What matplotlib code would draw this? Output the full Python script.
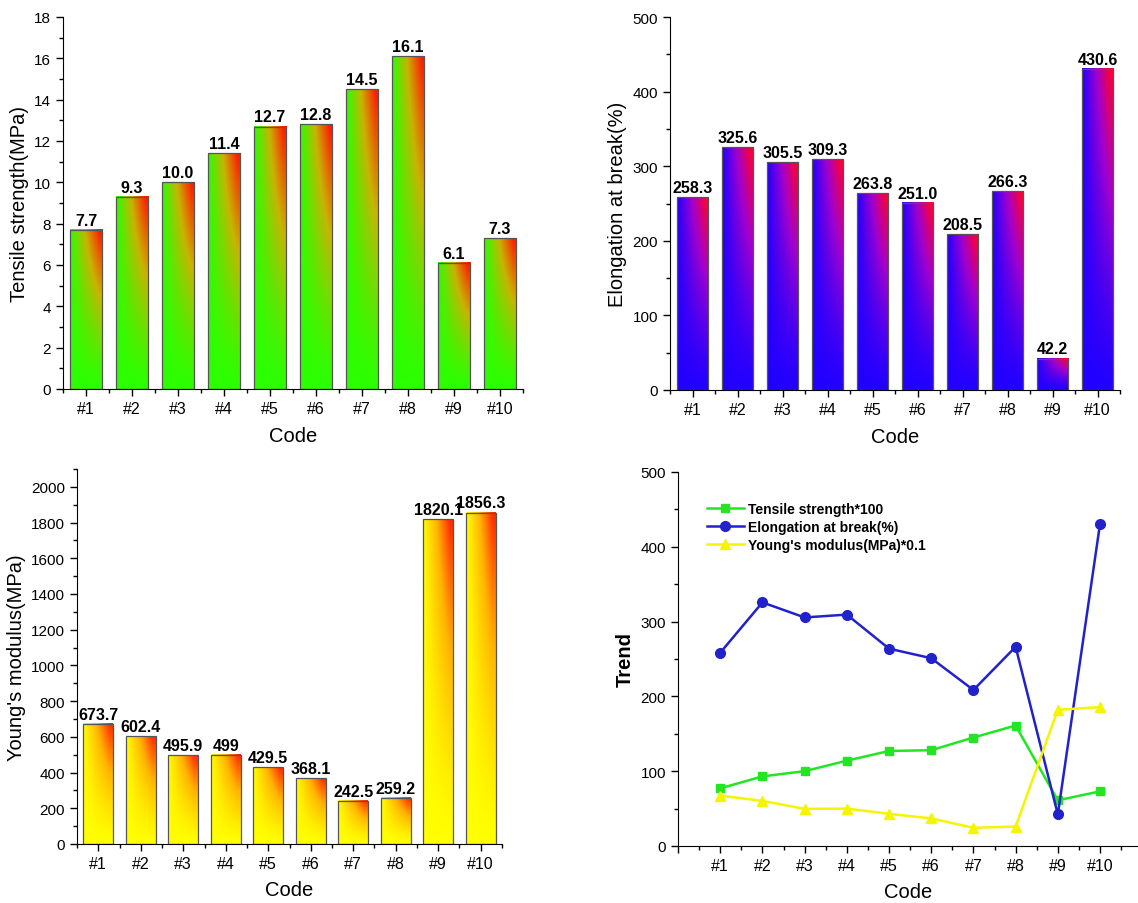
import numpy as np
import matplotlib.pyplot as plt
from matplotlib.colors import LinearSegmentedColormap
from matplotlib.ticker import MultipleLocator

plt.rcParams['font.family'] = ['Liberation Sans', 'DejaVu Sans']

codes = ['#1', '#2', '#3', '#4', '#5', '#6', '#7', '#8', '#9', '#10']
tensile = [7.7, 9.3, 10.0, 11.4, 12.7, 12.8, 14.5, 16.1, 6.1, 7.3]
tensile_labels = ['7.7', '9.3', '10.0', '11.4', '12.7', '12.8', '14.5', '16.1', '6.1', '7.3']
elongation = [258.3, 325.6, 305.5, 309.3, 263.8, 251.0, 208.5, 266.3, 42.2, 430.6]
elongation_labels = ['258.3', '325.6', '305.5', '309.3', '263.8', '251.0', '208.5', '266.3', '42.2', '430.6']
modulus = [673.7, 602.4, 495.9, 499, 429.5, 368.1, 242.5, 259.2, 1820.1, 1856.3]
modulus_labels = ['673.7', '602.4', '495.9', '499', '429.5', '368.1', '242.5', '259.2', '1820.1', '1856.3']

x = np.arange(1, len(codes) + 1)

green_red = LinearSegmentedColormap.from_list('gr', ['#2bff00', '#c8b400', '#ff1a00'])
blue_red = LinearSegmentedColormap.from_list('br', ['#2200ff', '#a000d0', '#ff0030'])
yellow_red = LinearSegmentedColormap.from_list('yr', ['#ffff00', '#ffb400', '#ff2a00'])

# per-bar gradient: colour 2 sits in the top right corner, fades to colour 1 at left and bottom
gx, gy = np.meshgrid(np.linspace(0, 1, 40), np.linspace(0, 1, 200))
grad_t = np.clip(gx * 1.1, 0, 1) * gy ** 1.3


def gradient_bars(ax, values, labels, cmap, ymax, label_off):
    width = 0.7
    img = cmap(grad_t)
    for xi, v, lab in zip(x, values, labels):
        ax.imshow(img, extent=(xi - width / 2, xi + width / 2, 0, v),
                  origin='lower', aspect='auto', zorder=1, interpolation='bilinear')
        ax.text(xi, v + label_off, lab, ha='center', va='bottom',
                fontsize=11.5, fontweight='bold', zorder=3)
    ax.bar(x, values, width=width, facecolor='none', edgecolor='#555555',
           linewidth=0.9, zorder=2)
    ax.set_xlim(0.5, 10.5)
    ax.set_ylim(0, ymax)


def style_axes(ax, ylabel, ymajor, yminor, label_bold=False):
    ax.spines['top'].set_visible(False)
    ax.spines['right'].set_visible(False)
    ax.set_xticks(x)
    ax.set_xticklabels(codes, fontsize=11.5)
    ax.xaxis.set_minor_locator(MultipleLocator(0.5))
    ax.yaxis.set_major_locator(MultipleLocator(ymajor))
    ax.yaxis.set_minor_locator(MultipleLocator(yminor))
    ax.tick_params(axis='y', labelsize=11)
    ax.tick_params(which='major', direction='out', length=5, width=1)
    ax.tick_params(which='minor', direction='out', length=3, width=1)
    ax.set_xlabel('Code', fontsize=14.5, labelpad=7)
    ax.set_ylabel(ylabel, fontsize=14.5, fontweight='bold' if label_bold else 'normal')


fig = plt.figure(figsize=(11.38, 9.04), dpi=100)

ax1 = fig.add_axes([0.0554, 0.5686, 0.4042, 0.4115])
gradient_bars(ax1, tensile, tensile_labels, green_red, 18, 0.1)
style_axes(ax1, 'Tensile strength(MPa)', 2, 1)

ax2 = fig.add_axes([0.5888, 0.5675, 0.3954, 0.4125])
gradient_bars(ax2, elongation, elongation_labels, blue_red, 500, 3)
style_axes(ax2, 'Elongation at break(%)', 100, 50)

ax3 = fig.add_axes([0.0677, 0.0653, 0.3734, 0.4148])
gradient_bars(ax3, modulus, modulus_labels, yellow_red, 2100, 12)
style_axes(ax3, "Young's modulus(MPa)", 200, 100)

# trend panel: scaled series on a common axis
ax4 = fig.add_axes([0.5958, 0.0631, 0.4042, 0.4137])
ax4.plot(x, np.array(tensile) * 10, color='#22e622', marker='s', markersize=5.5,
         linewidth=1.8, label='Tensile strength*100')
ax4.plot(x, elongation, color='#2222cc', marker='o', markersize=7,
         linewidth=1.8, label='Elongation at break(%)')
ax4.plot(x, np.array(modulus) * 0.1, color='#f5f500', marker='^', markersize=7,
         linewidth=1.8, label="Young's modulus(MPa)*0.1")
ax4.set_xlim(0, 10.9)
ax4.set_ylim(0, 500)
style_axes(ax4, 'Trend', 100, 50, label_bold=True)
ax4.set_xticks(np.arange(0, 11))
ax4.set_xticklabels([''] + codes, fontsize=11.5)
ax4.legend(loc='upper left', bbox_to_anchor=(0.05, 0.935), frameon=False,
           prop={'weight': 'bold', 'size': 10}, handlelength=2.7,
           handletextpad=0.3, labelspacing=0.3, borderaxespad=0)

fig.savefig('out.png', dpi=100)
